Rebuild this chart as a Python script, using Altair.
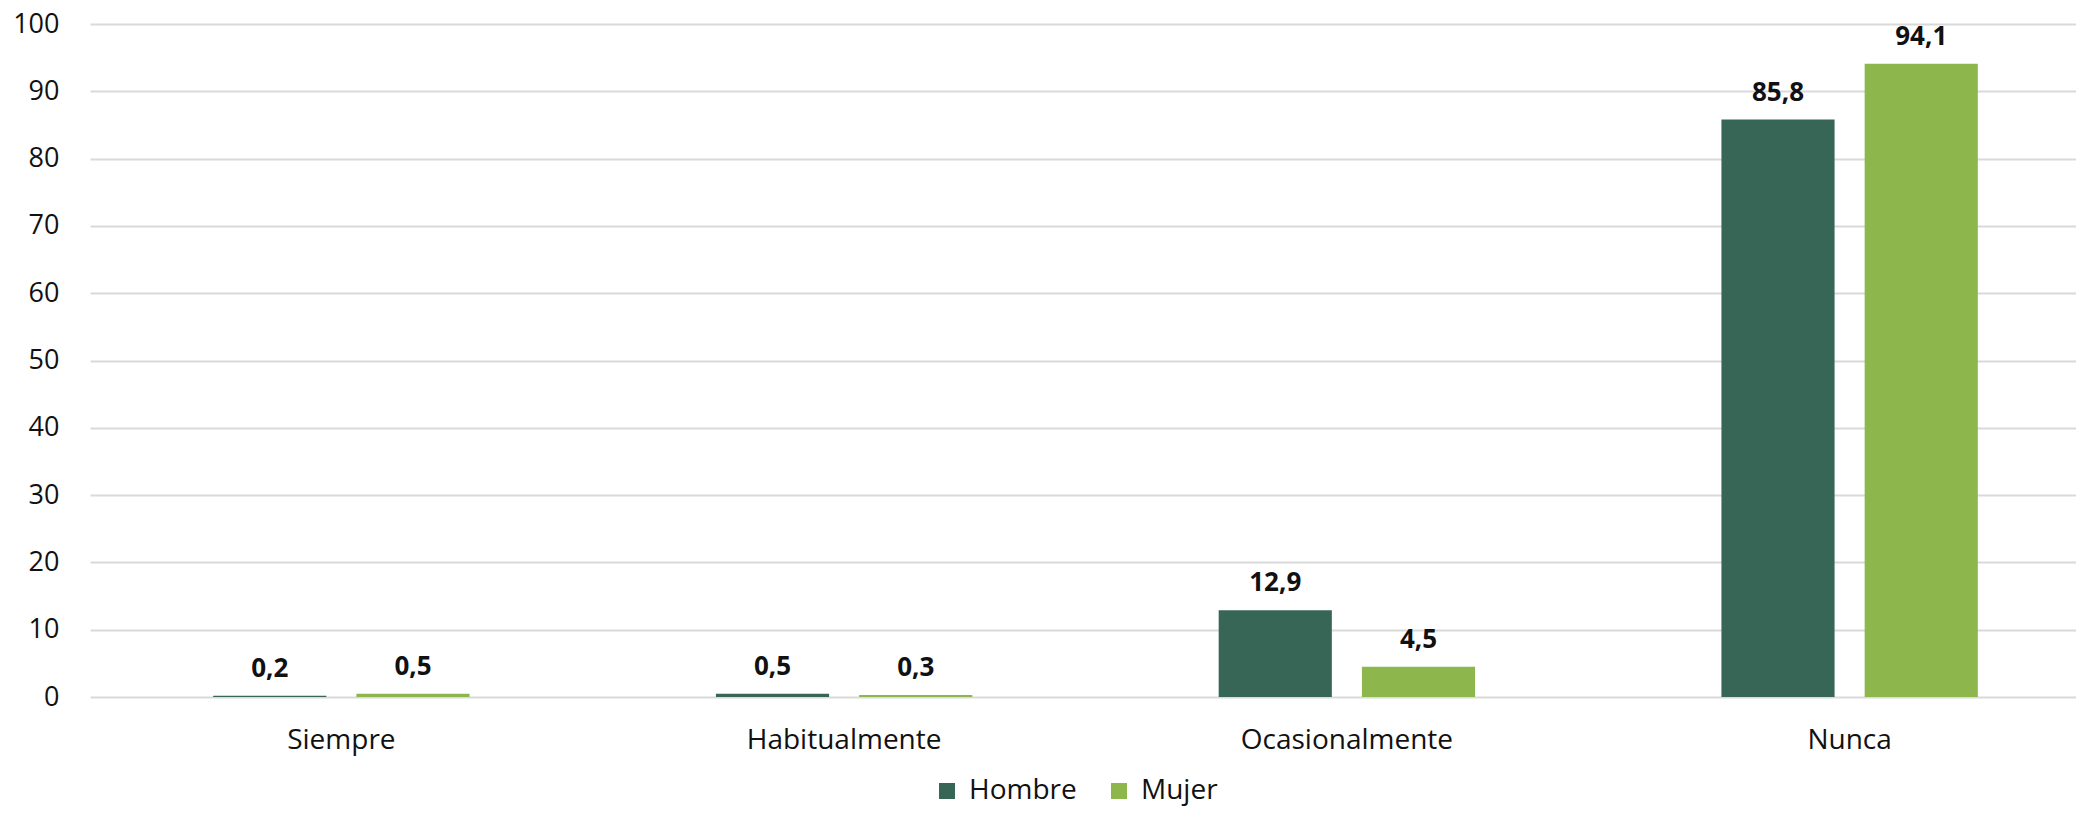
import altair as alt
import pandas as pd

categories = ["Siempre", "Habitualmente", "Ocasionalmente", "Nunca"]
series = ["Hombre", "Mujer"]
hombre = [0.2, 0.5, 12.9, 85.8]
mujer = [0.5, 0.3, 4.5, 94.1]
colors = ["#376657", "#8DB64C"]
y_ticks = [0, 10, 20, 30, 40, 50, 60, 70, 80, 90, 100]

rows = []
for c, h, m in zip(categories, hombre, mujer):
    rows.append({"cat": c, "sexo": "Hombre", "valor": h})
    rows.append({"cat": c, "sexo": "Mujer", "valor": m})
df = pd.DataFrame(rows)
df["etiqueta"] = df["valor"].map(lambda v: f"{v:.1f}".replace(".", ","))

FONT = "Open Sans"

x = alt.X("cat:N", sort=categories, title=None,
          scale=alt.Scale(range=[0, 2011], paddingInner=0, paddingOuter=0),
          axis=alt.Axis(labelAngle=0, labelFontSize=28, labelFont=FONT, labelColor="#111111",
                        ticks=False, domain=False, labelPadding=29, grid=False,
                        labelLimit=600))
xoff = alt.XOffset("sexo:N", sort=series,
                   scale=alt.Scale(paddingInner=0.21, paddingOuter=0.86))
y = alt.Y("valor:Q", title=None,
          scale=alt.Scale(domain=[0, 100], nice=False),
          axis=alt.Axis(values=y_ticks, labelFontSize=27, labelFont=FONT, labelColor="#111111",
                        ticks=False, domain=False, labelPadding=31,
                        grid=True, gridColor="#D9D9D9", gridWidth=2))

bars = alt.Chart(df).mark_bar().encode(
    x=x, xOffset=xoff, y=y,
    color=alt.Color("sexo:N", sort=series,
                    scale=alt.Scale(domain=series, range=colors),
                    legend=alt.Legend(title=None, orient="none", direction="horizontal",
                                      legendX=843, legendY=753, symbolType="square",
                                      symbolSize=256, symbolStrokeWidth=0,
                                      labelFontSize=28, labelFont=FONT, labelColor="#111111",
                                      labelOffset=8, columnPadding=28, padding=0)),
)

labels = alt.Chart(df).mark_text(
    font=FONT, fontSize=26, fontWeight="bold", baseline="alphabetic", dy=-19, color="#111111"
).encode(x=x, xOffset=xoff, y=y, text="etiqueta:N")

chart = alt.layer(bars, labels).properties(
    width=1986, height=673,
    autosize=alt.AutoSizeParams(type="none"),
    padding={"left": 82, "top": 16, "right": 0, "bottom": 109},
).configure_view(stroke=None)

chart.save("out.html", embed_options={"renderer": "svg", "actions": False})
